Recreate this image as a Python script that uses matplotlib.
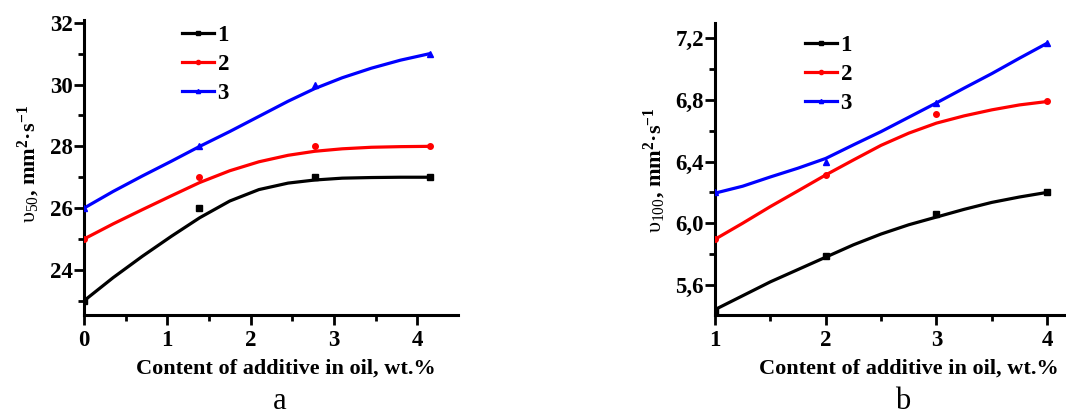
import matplotlib
matplotlib.use("Agg")
import matplotlib.pyplot as plt
from matplotlib.lines import Line2D
from matplotlib.ticker import MultipleLocator, FixedLocator, FixedFormatter

plt.rcParams['font.family'] = ['Liberation Serif', 'DejaVu Serif']
plt.rcParams['mathtext.fontset'] = 'custom'
plt.rcParams['mathtext.rm'] = 'Liberation Serif'
plt.rcParams['mathtext.bf'] = 'Liberation Serif:bold'
plt.rcParams['mathtext.it'] = 'Liberation Serif:italic'

# ---------------- data: panel a ----------------
a_x = [0.0, 1.38, 2.77, 4.15]
a_s1 = [23.0, 26.0, 27.0, 27.0]
a_s2 = [25.0, 27.0, 28.0, 28.0]
a_s3 = [26.0, 28.0, 30.0, 31.0]
# fitted curves
a_curve_x = [0.0, 0.35, 0.7, 1.05, 1.39, 1.75, 2.1, 2.45, 2.77, 3.1, 3.45, 3.8, 4.15]
a_curve1 = [23.0, 23.75, 24.44, 25.09, 25.69, 26.23, 26.6, 26.81, 26.91, 26.97, 26.99, 27.0, 27.0]
a_curve2 = [25.0, 25.49, 25.95, 26.4, 26.83, 27.21, 27.5, 27.71, 27.84, 27.92, 27.97, 27.99, 28.0]
a_curve3 = [26.0, 26.54, 27.04, 27.52, 28.0, 28.48, 28.97, 29.46, 29.87, 30.22, 30.53, 30.79, 31.0]
a_yticks = [24, 26, 28, 30, 32]

# ---------------- data: panel b ----------------
b_x = [1, 2, 3, 4]
b_s1 = [5.43, 5.79, 6.06, 6.20]
b_s2 = [5.90, 6.31, 6.71, 6.79]
b_s3 = [6.20, 6.40, 6.78, 7.17]
b_curve_x = [1.0, 1.25, 1.5, 1.75, 2.0, 2.25, 2.5, 2.75, 3.0, 3.25, 3.5, 3.75, 4.0]
b_curve1 = [5.44, 5.53, 5.62, 5.70, 5.78, 5.86, 5.93, 5.99, 6.04, 6.09, 6.135, 6.17, 6.20]
b_curve2 = [5.896, 6.0, 6.108, 6.21, 6.313, 6.41, 6.505, 6.584, 6.649, 6.696, 6.735, 6.767, 6.789]
b_curve3 = [6.195, 6.24, 6.30, 6.357, 6.42, 6.508, 6.594, 6.687, 6.78, 6.876, 6.97, 7.07, 7.167]
b_yticks = [5.6, 6.0, 6.4, 6.8, 7.2]
b_yticklabels = ["5,6", "6,0", "6,4", "6,8", "7,2"]

labels = ["1", "2", "3"]
colors = ["#000000", "#ff0000", "#0000ff"]
markers = ["s", "o", "^"]
msizes = [4, 4, 5]

fig = plt.figure(figsize=(10.66, 4.16), dpi=100)
W, H = 1066.0, 416.0

def px_axes(l, t, r, b):
    return fig.add_axes([l / W, 1 - b / H, (r - l) / W, (b - t) / H])

ax_a = px_axes(84, 20, 458, 315)
ax_b = px_axes(715, 22.7, 1066, 315)

LW = 2.3

def style(ax):
    for s in ["top", "right"]:
        ax.spines[s].set_visible(False)
    for s in ["left", "bottom"]:
        ax.spines[s].set_linewidth(2.2)
    ax.tick_params(which="major", direction="out", length=7, width=2.0,
                   labelsize=16.5)
    ax.tick_params(axis="x", which="major", pad=4)
    ax.tick_params(axis="y", which="major", pad=1)
    ax.tick_params(which="minor", direction="out", length=4, width=2.0)
    for lab in ax.get_xticklabels() + ax.get_yticklabels():
        lab.set_fontweight("bold")

def draw(ax, px, ys, cx, cys):
    for y, cy, c, m, ms in zip(ys, cys, colors, markers, msizes):
        ax.plot(cx, cy, "-", color=c, lw=LW, solid_capstyle="round",
                solid_joinstyle="round", zorder=2)
        ax.plot(px, y, linestyle="none", marker=m, color=c, ms=ms, zorder=3)

draw(ax_a, a_x, [a_s1, a_s2, a_s3], a_curve_x, [a_curve1, a_curve2, a_curve3])
draw(ax_b, b_x, [b_s1, b_s2, b_s3], b_curve_x, [b_curve1, b_curve2, b_curve3])

# panel a axes
ax_a.set_xlim(0, 4.49)
ax_a.set_ylim(22.54, 32.09)
ax_a.xaxis.set_major_locator(MultipleLocator(1))
ax_a.xaxis.set_minor_locator(MultipleLocator(0.5))
ax_a.yaxis.set_major_locator(FixedLocator(a_yticks))
ax_a.yaxis.set_minor_locator(MultipleLocator(1))
style(ax_a)

# panel b axes
ax_b.set_xlim(1, 4.17)
ax_b.set_ylim(5.405, 7.30)
ax_b.xaxis.set_major_locator(MultipleLocator(1))
ax_b.xaxis.set_minor_locator(MultipleLocator(0.5))
ax_b.yaxis.set_major_locator(FixedLocator(b_yticks))
ax_b.yaxis.set_major_formatter(FixedFormatter(b_yticklabels))
ax_b.yaxis.set_minor_locator(MultipleLocator(0.2))
style(ax_b)

xlabel = "Content of additive in oil, wt.%"
for ax, cx in [(ax_a, 286), (ax_b, 909)]:
    ax.set_xlabel(xlabel, fontsize=16, fontweight="bold")
    l = ax.get_position()
    ax.xaxis.set_label_coords((cx / W - l.x0) / l.width, (1 - 369 / H - l.y0) / l.height)
    ax.xaxis.label.set_va("center")

ylab_a = r"$\mathrm{υ_{50}}$, mm$^{\mathbf{2}}$·s$^{\mathbf{-1}}$"
ylab_b = r"$\mathrm{υ_{100}}$, mm$^{\mathbf{2}}$·s$^{\mathbf{-1}}$"
for ax, lab, cx, cy in [(ax_a, ylab_a, 29, 164), (ax_b, ylab_b, 655, 170)]:
    ax.set_ylabel(lab, fontsize=16, fontweight="bold")
    l = ax.get_position()
    ax.yaxis.set_label_coords((cx / W - l.x0) / l.width, (1 - cy / H - l.y0) / l.height)
    ax.yaxis.label.set_va("center")

handles = [Line2D([], [], color=c, lw=LW, marker=m, ms=3) for c, m in zip(colors, markers)]
for ax, lx, ly in [(ax_a, 182, 25), (ax_b, 805, 35)]:
    l = ax.get_position()
    leg = ax.legend(handles, labels, loc="upper left",
                    bbox_to_anchor=((lx / W - l.x0) / l.width, (1 - ly / H - l.y0) / l.height),
                    frameon=False, borderpad=0, borderaxespad=0, handlelength=1.4,
                    handletextpad=0.15, labelspacing=0.34, numpoints=1,
                    prop={"family": "Liberation Serif", "weight": "bold", "size": 16.5})

fig.text(280 / W, 1 - 409 / H, "a", fontsize=22, ha="center", va="baseline")
fig.text(903 / W, 1 - 409 / H, "b", fontsize=22, ha="center", va="baseline")

fig.savefig("out.png", dpi=100)
